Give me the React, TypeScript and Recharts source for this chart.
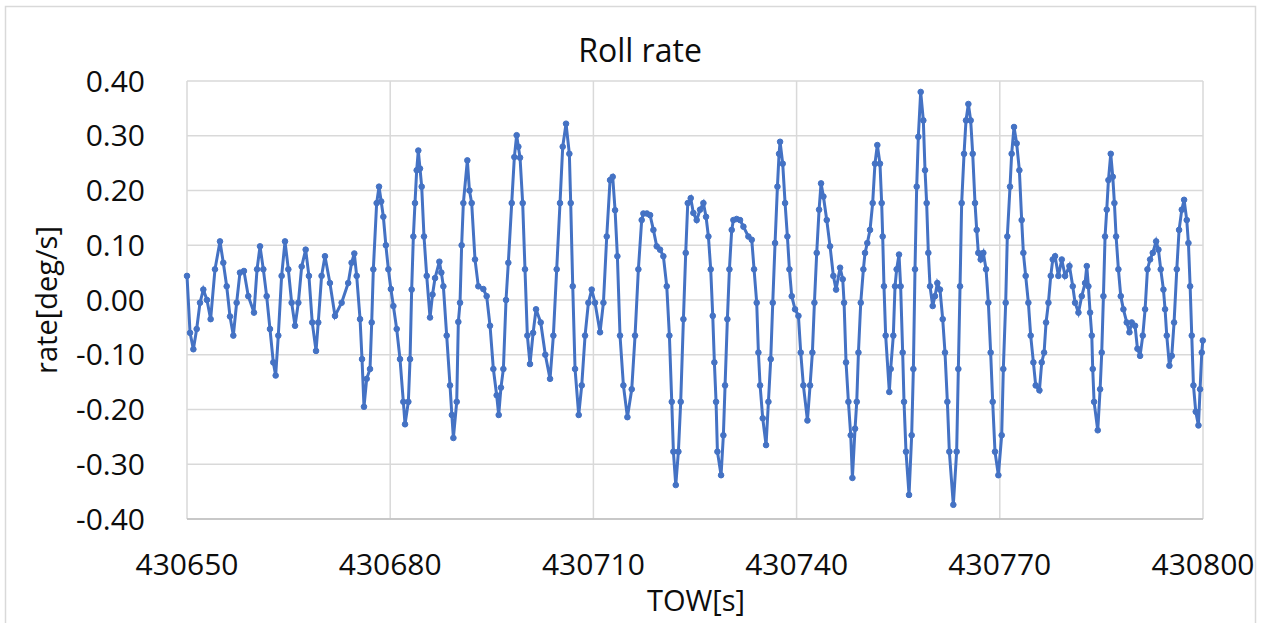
import { LineChart, Line, XAxis, YAxis, CartesianGrid } from 'recharts';

const TOW_START = 430650;

// seconds after TOW_START
const towOffsets = [
  0.00, 0.45, 0.94, 1.43, 1.92, 2.41, 2.95, 3.49, 4.13, 4.87, 5.36, 5.86, 6.35, 6.84, 7.33, 7.82, 8.41, 9.05, 9.89, 10.34,
  10.78, 11.27, 11.76, 12.25, 12.74, 13.09, 13.48, 13.97, 14.47, 14.96, 15.45, 15.95, 16.44, 16.93, 17.52, 18.00, 18.49, 19.05, 19.38, 19.87,
  20.37, 21.10, 21.85, 22.83, 23.80, 24.30, 24.70,
  25.05, 25.55, 25.84, 26.13, 26.53, 27.02, 27.27, 27.51, 28.00, 28.35, 28.67, 28.99, 29.36, 29.73, 30.10, 30.47, 30.96, 31.45, 31.94, 32.19,
  32.68, 32.93, 33.17, 33.42, 33.66, 33.91, 34.15, 34.40, 34.65, 34.99, 35.39, 35.88, 36.25, 36.62, 37.26, 37.55, 37.85, 38.34, 38.83, 39.10,
  39.33, 39.82, 40.06, 40.31, 40.55, 40.80, 41.39, 41.70, 42.03, 42.52, 43.01, 43.75, 44.24, 44.74, 45.23, 45.72, 46.02, 46.35, 46.71, 47.10,
  47.44, 47.94, 48.33, 48.67, 48.92,
  49.17, 49.56, 49.90, 50.25, 50.64, 51.10, 51.53, 52.22, 52.90, 53.60, 54.09, 54.58, 55.07, 55.47, 55.96, 56.45, 56.65, 56.95, 57.29, 57.83,
  58.28, 58.77, 59.26, 59.75, 60.24, 60.98, 61.48, 61.97, 62.46, 62.85, 63.20, 63.54, 63.93, 64.43, 65.02, 65.66, 66.15, 66.64, 67.13, 67.38,
  67.90, 68.37, 68.86, 69.35, 69.84, 70.33, 70.83, 71.22, 71.57, 71.81, 72.16, 72.55, 72.89, 73.29, 73.63, 73.93, 74.37,
  74.76, 75.25, 75.75, 76.24, 76.63, 76.98, 77.32, 77.62, 77.86, 78.11, 78.31, 78.85, 79.19, 79.44, 79.78, 80.08, 80.42, 80.67, 81.15, 81.65,
  82.15, 82.88, 83.38, 83.72, 84.11, 84.36, 84.61, 85.00, 85.49, 85.84, 86.18, 86.48, 86.82, 87.17, 87.41, 87.56, 87.95, 88.30, 88.64, 88.94,
  89.28, 89.77, 90.27, 90.61, 91.00, 91.60, 91.99, 92.33, 92.63, 92.97, 93.32, 93.61, 93.96, 94.45, 94.94, 95.43, 95.83, 96.42, 96.81, 97.01,
  97.30, 97.65, 97.99, 98.24, 98.63, 98.88, 99.13, 99.47, 99.86,
  100.10, 100.44, 100.84, 101.23, 101.57, 101.92, 102.31, 102.56, 102.71, 102.90, 103.15, 103.69, 103.89, 104.28, 104.53, 104.77, 105.12, 105.36, 105.66, 105.86,
  106.15, 106.60, 106.99, 107.24, 107.48, 107.73, 107.97, 108.32, 108.71, 108.96, 109.20, 109.45, 109.70, 110.09, 110.43, 110.78, 111.17, 111.57, 111.91, 112.26,
  112.55, 113.14, 113.63, 113.88, 114.13, 114.37, 114.72, 115.01, 115.36, 115.70, 116.00, 116.34, 116.59, 116.83, 117.18, 117.57, 117.97, 118.31, 118.65, 118.95,
  119.29, 119.79, 120.28, 120.52, 120.87, 121.11, 121.51, 121.75, 122.10, 122.49, 122.89, 123.23, 123.48, 123.82, 124.22, 124.56,
  124.96, 125.30, 125.85, 126.19, 126.54, 126.83, 127.18, 127.52, 127.82, 128.16, 128.65, 129.15, 129.64, 130.28, 130.77, 131.11, 131.61, 132.10, 132.59, 132.84,
  133.08, 133.33, 133.58, 133.72, 133.92, 134.46, 134.81, 135.05, 135.30, 135.54, 135.79, 136.04, 136.38, 136.68, 136.92, 137.17, 137.51, 137.86, 138.25, 138.74,
  139.14, 139.48, 139.97, 140.32, 140.71, 141.11, 141.45, 141.80, 142.19, 142.58, 143.08, 143.42, 143.76, 144.16, 144.40, 144.65, 145.04, 145.39, 145.73, 146.13,
  146.47, 146.87, 147.21, 147.60, 147.85, 148.10, 148.34, 148.59, 148.93, 149.33, 149.57, 149.82, 149.97,
];

// roll rate [deg/s]
const rollRate = [
  0.044, -0.060, -0.090, -0.053, -0.005, 0.019, 0.000, -0.035, 0.056, 0.107, 0.068, 0.025, -0.030, -0.065, -0.005, 0.050, 0.053, 0.007, -0.023, 0.056,
  0.098, 0.056, 0.007, -0.053, -0.114, -0.138, -0.065, 0.044, 0.107, 0.056, -0.005, -0.047, -0.005, 0.061, 0.092, 0.044, -0.041, -0.093, -0.041, 0.044,
  0.080, 0.031, -0.029, -0.005, 0.031, 0.068, 0.085,
  0.044, -0.035, -0.108, -0.195, -0.144, -0.126, -0.041, 0.056, 0.177, 0.207, 0.180, 0.152, 0.100, 0.056, 0.020, -0.011, -0.053, -0.108, -0.186, -0.227,
  -0.186, -0.108, 0.019, 0.116, 0.177, 0.237, 0.273, 0.240, 0.207, 0.116, 0.044, -0.032, 0.010, 0.040, 0.070, 0.050, 0.025, -0.065, -0.156, -0.210,
  -0.252, -0.186, -0.040, -0.005, 0.100, 0.177, 0.255, 0.200, 0.177, 0.074, 0.025, 0.020, 0.007, -0.047, -0.126, -0.174, -0.210, -0.160, -0.126, 0.000,
  0.068, 0.177, 0.261, 0.301, 0.280,
  0.260, 0.177, 0.056, -0.065, -0.117, -0.060, -0.017, -0.041, -0.100, -0.144, -0.065, 0.056, 0.177, 0.280, 0.322, 0.267, 0.177, 0.025, -0.126, -0.210,
  -0.156, -0.065, -0.005, 0.019, -0.005, -0.059, -0.005, 0.116, 0.219, 0.225, 0.164, 0.080, -0.065, -0.156, -0.214, -0.163, -0.065, 0.056, 0.146, 0.158,
  0.158, 0.155, 0.128, 0.098, 0.092, 0.080, 0.025, -0.065, -0.186, -0.277, -0.338, -0.277, -0.186, -0.035, 0.086, 0.177, 0.186,
  0.159, 0.146, 0.165, 0.177, 0.152, 0.116, 0.056, -0.029, -0.114, -0.186, -0.277, -0.320, -0.247, -0.156, -0.035, 0.056, 0.128, 0.146, 0.148, 0.146,
  0.134, 0.116, 0.110, 0.056, -0.005, -0.096, -0.156, -0.216, -0.265, -0.186, -0.108, -0.005, 0.104, 0.207, 0.267, 0.289, 0.249, 0.177, 0.116, 0.056,
  0.007, -0.017, -0.029, -0.096, -0.156, -0.220, -0.156, -0.096, -0.005, 0.086, 0.165, 0.213, 0.189, 0.146, 0.098, 0.044, 0.019, 0.059, 0.038, -0.005,
  -0.114, -0.186, -0.247, -0.325, -0.235, -0.186, -0.096, -0.005, 0.056,
  0.086, 0.104, 0.128, 0.177, 0.249, 0.283, 0.249, 0.177, 0.116, 0.025, -0.065, -0.168, -0.126, -0.065, 0.025, 0.056, 0.083, 0.025, -0.096, -0.186,
  -0.277, -0.356, -0.247, -0.126, 0.056, 0.207, 0.298, 0.380, 0.328, 0.237, 0.177, 0.086, 0.025, -0.011, 0.007, 0.031, 0.019, -0.035, -0.096, -0.186,
  -0.277, -0.374, -0.277, -0.126, 0.025, 0.177, 0.267, 0.328, 0.358, 0.328, 0.267, 0.177, 0.128, 0.086, 0.074, 0.086, 0.056, -0.005, -0.096, -0.186,
  -0.277, -0.320, -0.247, -0.126, -0.005, 0.116, 0.207, 0.267, 0.316, 0.286, 0.237, 0.146, 0.086, 0.044, -0.005, -0.065,
  -0.114, -0.156, -0.165, -0.114, -0.096, -0.041, -0.005, 0.044, 0.074, 0.080, 0.044, 0.074, 0.044, 0.062, 0.025, -0.005, -0.023, 0.007, 0.031, 0.062,
  0.025, -0.023, -0.065, -0.126, -0.186, -0.238, -0.163, -0.096, 0.007, 0.116, 0.165, 0.219, 0.267, 0.225, 0.177, 0.116, 0.056, 0.007, -0.017, -0.041,
  -0.059, -0.041, -0.047, -0.089, -0.102, -0.065, -0.017, 0.056, 0.074, 0.086, 0.107, 0.092, 0.056, 0.019, -0.017, -0.065, -0.120, -0.102, -0.041, 0.056,
  0.128, 0.165, 0.183, 0.146, 0.104, 0.025, -0.065, -0.156, -0.204, -0.229, -0.163, -0.096, -0.074,
];

const xTicks = [430650, 430680, 430710, 430740, 430770, 430800];
const yTicks = [-0.4, -0.3, -0.2, -0.1, 0, 0.1, 0.2, 0.3, 0.4];

const data = towOffsets.map((t, i) => ({ tow: TOW_START + t, rate: rollRate[i] }));

const W = 1261;
const H = 623;
const BLUE = '#4472C4';
const FONT = '"Open Sans", sans-serif';
const tickStyle = { fontSize: 30, fill: '#0d0d0d', fontFamily: FONT };

export default function App() {
  return (
    <div style={{ position: 'absolute', left: 0, top: 0, width: W, height: H, background: '#fff' }}>
      {/* plot area: x 187..1203, y 81..519 */}
      <LineChart width={W} height={H} data={data} margin={{ top: 81, right: 58, bottom: 74, left: 87 }}>
        <CartesianGrid stroke="#d9d9d9" strokeWidth={1.5} />
        <XAxis
          dataKey="tow"
          type="number"
          domain={[430650, 430800]}
          ticks={xTicks}
          height={30}
          tick={tickStyle}
          tickLine={false}
          tickSize={0}
          tickMargin={35}
          axisLine={{ stroke: '#bfbfbf', strokeWidth: 1.5 }}
          interval={0}
        />
        <YAxis
          type="number"
          domain={[-0.4, 0.4]}
          ticks={yTicks}
          width={100}
          tick={tickStyle}
          tickLine={false}
          tickSize={0}
          tickMargin={42}
          axisLine={false}
          interval={0}
          tickFormatter={(v: number) => v.toFixed(2)}
        />
        <Line
          type="linear"
          dataKey="rate"
          stroke={BLUE}
          strokeWidth={3}
          dot={{ r: 2.8, fill: BLUE, stroke: BLUE, strokeWidth: 1 }}
          isAnimationActive={false}
        />
      </LineChart>
      <svg width={W} height={H} style={{ position: 'absolute', left: 0, top: 0, pointerEvents: 'none' }}>
        <rect x={5.5} y={6.5} width={1250} height={640} fill="none" stroke="#d9d9d9" strokeWidth={1.5} />
        <text x={640} y={62} textAnchor="middle" fontFamily={FONT} fontSize={32} fill="#0d0d0d">Roll rate</text>
        <text x={696} y={611} textAnchor="middle" fontFamily={FONT} fontSize={29} fill="#0d0d0d">TOW[s]</text>
        <text
          x={57}
          y={300}
          textAnchor="middle"
          fontFamily={FONT}
          fontSize={29}
          fill="#0d0d0d"
          transform="rotate(-90 57 300)"
        >
          rate[deg/s]
        </text>
      </svg>
    </div>
  );
}
